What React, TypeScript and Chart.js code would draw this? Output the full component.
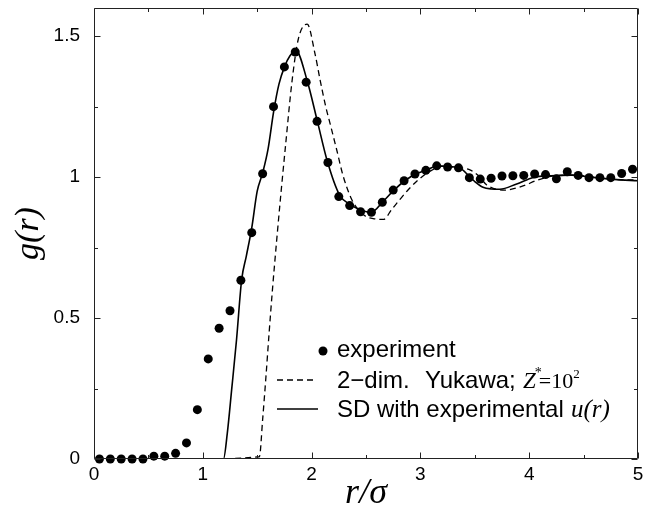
import React, { useEffect, useRef } from 'react';
import { Chart, registerables } from 'chart.js';

Chart.register(...registerables);

// experimental g(r) points
const expR = [0.05, 0.15, 0.25, 0.35, 0.45, 0.55, 0.65, 0.75, 0.85, 0.95,
  1.05, 1.15, 1.25, 1.35, 1.45, 1.55, 1.65, 1.75, 1.85, 1.95,
  2.05, 2.15, 2.25, 2.35, 2.45, 2.55, 2.65, 2.75, 2.85, 2.95,
  3.05, 3.15, 3.25, 3.35, 3.45, 3.55, 3.65, 3.75, 3.85, 3.95,
  4.05, 4.15, 4.25, 4.35, 4.45, 4.55, 4.65, 4.75, 4.85, 4.95];
const expG = [0, 0, 0, 0, 0, 0.01, 0.01, 0.02, 0.057, 0.175,
  0.355, 0.464, 0.526, 0.634, 0.803, 1.012, 1.25, 1.391, 1.444, 1.337,
  1.198, 1.052, 0.931, 0.899, 0.877, 0.875, 0.911, 0.954, 0.987, 1.011,
  1.024, 1.04, 1.036, 1.033, 0.998, 0.993, 0.996, 1.004, 1.005, 1.006,
  1.011, 1.009, 0.994, 1.019, 1.006, 0.998, 0.998, 0.998, 1.013, 1.028];

// 2-dim. Yukawa (dashed)
const yukR = [0.93, 1.52, 1.55, 1.58, 1.61, 1.64, 1.68, 1.72, 1.76, 1.82,
  1.878, 1.96, 2.03, 2.077, 2.13, 2.17, 2.23, 2.29, 2.37, 2.475,
  2.58, 2.66, 2.736, 2.81, 2.89, 2.98, 3.09, 3.21, 3.36, 3.46,
  3.54, 3.61, 3.77, 3.925, 4.08, 4.24, 4.43, 4.67, 4.9, 5.0];
const yukG = [0, 0.008, 0.14, 0.29, 0.45, 0.6, 0.78, 0.95, 1.11, 1.34,
  1.49, 1.543, 1.44, 1.347, 1.25, 1.19, 1.098, 1.004, 0.92, 0.867,
  0.852, 0.85, 0.885, 0.92, 0.956, 0.99, 1.021, 1.039, 1.033, 1.025,
  1.002, 0.972, 0.954, 0.966, 0.99, 1.005, 1.007, 0.996, 0.99, 0.99];

// SD with experimental u(r) (solid)
const sdR = [0.93, 1.19, 1.225, 1.265, 1.31, 1.357, 1.40, 1.45, 1.50, 1.55,
  1.60, 1.65, 1.70, 1.755, 1.80, 1.857, 1.96, 2.05, 2.144, 2.255,
  2.353, 2.46, 2.55, 2.66, 2.757, 2.86, 2.96, 3.058, 3.155, 3.257,
  3.357, 3.456, 3.5, 3.575, 3.65, 3.73, 3.885, 4.04, 4.2, 4.39,
  4.59, 4.78, 5.0];
const sdG = [0, 0, 0.091, 0.245, 0.423, 0.636, 0.72, 0.82, 0.95, 1.015,
  1.10, 1.23, 1.33, 1.395, 1.43, 1.448, 1.341, 1.203, 1.057, 0.938,
  0.903, 0.882, 0.876, 0.915, 0.954, 0.988, 1.012, 1.025, 1.04, 1.037,
  1.033, 1.0, 0.984, 0.964, 0.958, 0.957, 0.976, 0.999, 1.005, 1.007,
  0.999, 0.992, 0.987];

const xTicks = [0, 1, 2, 3, 4, 5];
const xMinorTicks = [0.5, 1.5, 2.5, 3.5, 4.5];
const yTicks = [0, 0.5, 1, 1.5];
const yMinorTicks = [0.25, 0.75, 1.25];
const seriesLabels = ['experiment', '2\u2212dim. Yukawa; Z*=10\u00b2', 'SD with experimental u(r)'];

const zip = (xs: number[], ys: number[]) => xs.map((x, i) => ({ x, y: ys[i] }));

const framePlugin = {
  id: 'frameTicks',
  afterDraw(chart: any) {
    const { ctx, chartArea, scales } = chart;
    const { left, right, top, bottom } = chartArea;
    const xs = scales.x;
    const ys = scales.y;
    ctx.save();
    ctx.strokeStyle = '#222';
    ctx.lineWidth = 1;
    const L = Math.round(left) + 0.5;
    const R = Math.round(right) - 0.5;
    const T = Math.round(top) + 0.5;
    const B = Math.round(bottom) - 0.5;
    ctx.beginPath();
    ctx.rect(L, T, R - L, B - T);
    ctx.stroke();
    const major = 6;
    const minor = 3.5;
    ctx.beginPath();
    const vt = (v: number, len: number) => {
      const p = Math.round(xs.getPixelForValue(v)) + 0.5;
      ctx.moveTo(p, B); ctx.lineTo(p, B - len);
      ctx.moveTo(p, T); ctx.lineTo(p, T + len);
    };
    const ht = (v: number, len: number) => {
      const p = Math.round(ys.getPixelForValue(v)) + 0.5;
      ctx.moveTo(L, p); ctx.lineTo(L + len, p);
      ctx.moveTo(R, p); ctx.lineTo(R - len, p);
    };
    xTicks.forEach((v) => vt(v, major));
    xMinorTicks.forEach((v) => vt(v, minor));
    yTicks.forEach((v) => ht(v, major));
    yMinorTicks.forEach((v) => ht(v, minor));
    ctx.stroke();

    // legend
    const lx0 = 277;
    const tx = 337;
    const rows = [357, 388, 417];
    ctx.fillStyle = '#000';
    ctx.strokeStyle = '#000';
    ctx.beginPath();
    ctx.arc(323, 351, 4.5, 0, Math.PI * 2);
    ctx.fill();
    ctx.lineWidth = 1.3;
    ctx.setLineDash([6, 4]);
    ctx.beginPath();
    ctx.moveTo(lx0, 380); ctx.lineTo(lx0 + 40, 380);
    ctx.stroke();
    ctx.setLineDash([]);
    ctx.lineWidth = 1.6;
    ctx.beginPath();
    ctx.moveTo(lx0, 409); ctx.lineTo(lx0 + 41, 409);
    ctx.stroke();

    ctx.textAlign = 'left';
    ctx.textBaseline = 'alphabetic';
    const sans = '24px "Liberation Sans", Arial, sans-serif';
    ctx.font = sans;
    ctx.fillText('experiment', tx, rows[0]);
    ctx.fillText('2\u2212dim.', tx, rows[1]);
    ctx.fillText('Yukawa;', 425, rows[1]);
    let x = 523;
    ctx.font = 'italic 23px "Liberation Serif", serif';
    ctx.fillText('Z', x, rows[1]);
    x += ctx.measureText('Z').width - 1;
    ctx.font = '14px "Liberation Serif", serif';
    ctx.fillText('*', x, rows[1] - 11);
    x += ctx.measureText('*').width - 3;
    ctx.font = '22px "Liberation Serif", serif';
    ctx.fillText('=10', x, rows[1]);
    x += ctx.measureText('=10').width;
    ctx.font = '13px "Liberation Serif", serif';
    ctx.fillText('2', x, rows[1] - 10);

    ctx.font = sans;
    ctx.fillText('SD with experimental', tx, rows[2]);
    ctx.font = 'italic 25px "Liberation Serif", serif';
    ctx.fillText('u(r)', 571, rows[2]);
    ctx.restore();
  },
};

export default function App() {
  const ref = useRef<HTMLCanvasElement | null>(null);
  useEffect(() => {
    if (!ref.current) return;
    const tickFont = { family: '"Liberation Sans", Arial, sans-serif', size: 19 };
    const chart = new Chart(ref.current, {
      type: 'scatter',
      data: {
        datasets: [
          {
            label: seriesLabels[0],
            data: zip(expR, expG),
            showLine: false,
            pointRadius: 4.5,
            pointHoverRadius: 4.5,
            pointBackgroundColor: '#000',
            pointBorderWidth: 0,
            backgroundColor: '#000',
            borderColor: '#000',
            clip: false,
            order: 0,
          },
          {
            label: seriesLabels[1],
            data: zip(yukR, yukG),
            showLine: true,
            pointRadius: 0,
            borderColor: '#000',
            borderWidth: 1.3,
            borderDash: [6, 4],
            cubicInterpolationMode: 'monotone',
            order: 1,
          },
          {
            label: seriesLabels[2],
            data: zip(sdR, sdG),
            showLine: true,
            pointRadius: 0,
            borderColor: '#000',
            borderWidth: 1.6,
            cubicInterpolationMode: 'monotone',
            order: 2,
          },
        ],
      } as any,
      options: {
        animation: false,
        responsive: false,
        maintainAspectRatio: false,
        events: [],
        layout: { padding: { top: 8, right: 27, bottom: 0, left: 0 } },
        plugins: { legend: { display: false }, tooltip: { enabled: false } },
        scales: {
          x: {
            type: 'linear',
            min: 0,
            max: 5,
            grid: { display: false, drawTicks: false },
            border: { display: false },
            afterBuildTicks: (s: any) => { s.ticks = xTicks.map((v) => ({ value: v })); },
            afterFit: (s: any) => {
              s.height = 53;
              s.paddingLeft = 0; s.paddingRight = 0; s.paddingTop = 0; s.paddingBottom = 0;
            },
            ticks: {
              color: '#000',
              font: tickFont,
              padding: 4,
              maxRotation: 0,
              autoSkip: false,
              callback: (v: any) => String(v),
            },
            title: {
              display: true,
              text: 'r/\u03c3',
              color: '#000',
              font: { family: '"Liberation Serif", serif', style: 'italic', size: 36, lineHeight: 1 },
              padding: { top: 0, bottom: 0.2 },
            },
          },
          y: {
            type: 'linear',
            min: 0,
            max: 1.6,
            grid: { display: false, drawTicks: false },
            border: { display: false },
            afterBuildTicks: (s: any) => { s.ticks = yTicks.map((v) => ({ value: v })); },
            afterFit: (s: any) => {
              s.width = 94;
              s.paddingLeft = 0; s.paddingRight = 0; s.paddingTop = 0; s.paddingBottom = 0;
            },
            ticks: {
              color: '#000',
              font: tickFont,
              padding: 14,
              autoSkip: false,
              callback: (v: any) => String(v),
            },
            title: {
              display: true,
              text: 'g(r)',
              color: '#000',
              font: { family: '"Liberation Serif", serif', style: 'italic', size: 34, lineHeight: 1 },
              padding: { top: 12, bottom: 0 },
            },
          },
        },
      } as any,
      plugins: [framePlugin],
    });
    return () => chart.destroy();
  }, []);
  return (
    <div style={{ position: 'absolute', left: 0, top: 0, width: 665, height: 512, background: '#fff' }}>
      <canvas ref={ref} width={665} height={512} style={{ display: 'block' }} />
    </div>
  );
}
